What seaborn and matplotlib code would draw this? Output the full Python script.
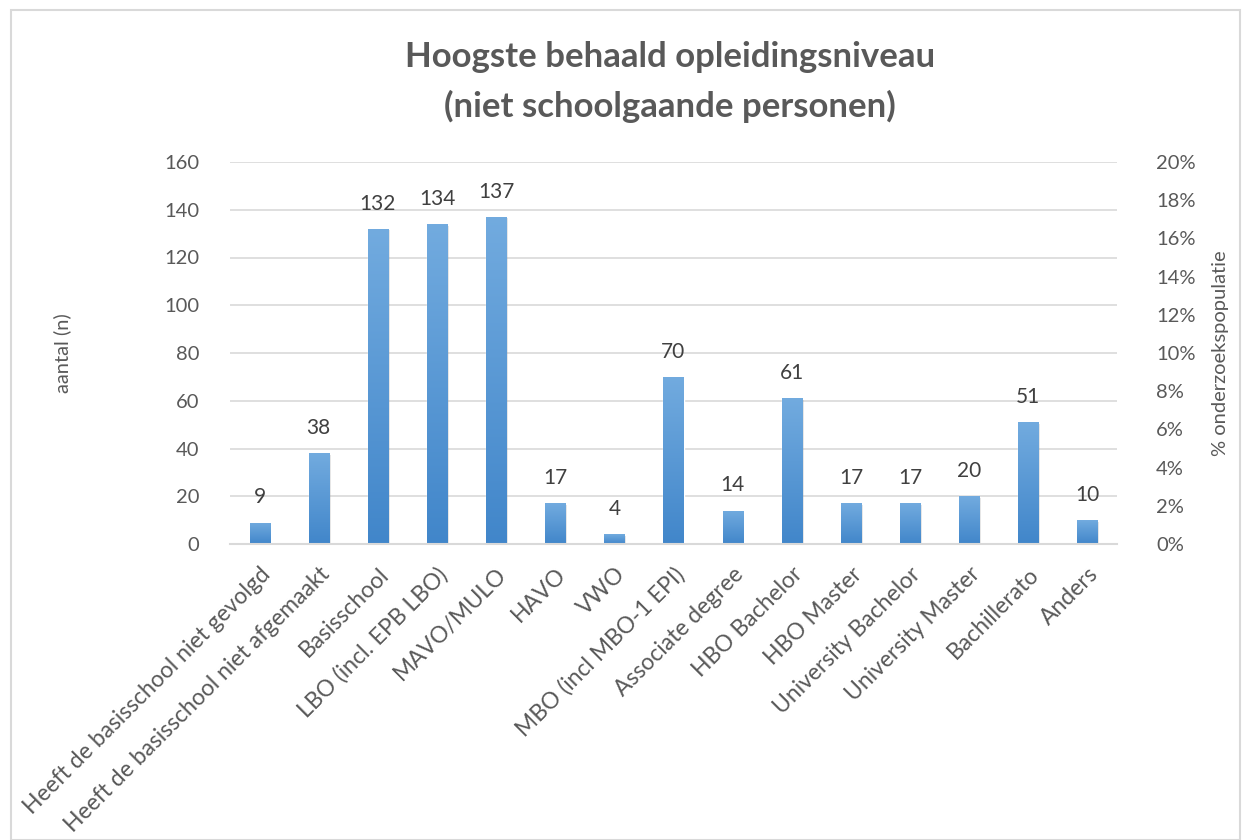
import numpy as np
import pandas as pd
import matplotlib
matplotlib.use("Agg")
import matplotlib.pyplot as plt
import seaborn as sns
from matplotlib.patches import Rectangle
from matplotlib.ticker import FuncFormatter
from matplotlib.colors import LinearSegmentedColormap

categories = ["Heeft de basisschool niet gevolgd", "Heeft de basisschool niet afgemaakt",
              "Basisschool", "LBO (incl. EPB LBO)", "MAVO/MULO", "HAVO", "VWO",
              "MBO (incl MBO-1 EPI)", "Associate degree", "HBO Bachelor", "HBO Master",
              "University Bachelor", "University Master", "Bachillerato", "Anders"]
counts = [9, 38, 132, 134, 137, 17, 4, 70, 14, 61, 17, 17, 20, 51, 10]
left_ticks = [0, 20, 40, 60, 80, 100, 120, 140, 160]
right_ticks = [0, 0.02, 0.04, 0.06, 0.08, 0.10, 0.12, 0.14, 0.16, 0.18, 0.20]

sns.set_theme(style="white")
plt.rcParams['font.family'] = ['Lato', 'DejaVu Sans']
txt = "#595959"

fig = plt.figure(figsize=(12.48, 8.4), dpi=100)
ax = fig.add_axes([230/1248, 1-544/840, (1117-230)/1248, (544-162)/840])

df = pd.DataFrame({"cat": categories, "n": counts})
sns.barplot(data=df, x="cat", y="n", ax=ax, color="#5b9bd5", width=0.34, saturation=1)

grad = np.linspace(0, 1, 256).reshape(-1, 1)
cmap = LinearSegmentedColormap.from_list("g", ["#4186ca", "#72abdf"])
for p in list(ax.patches):
    x0, y0 = p.get_x(), p.get_y()
    w, h = p.get_width(), p.get_height()
    sh = Rectangle((x0 + 0.03, y0), w, h - 0.6, facecolor="#000000", alpha=0.12,
                   edgecolor="none", zorder=1.5)
    ax.add_patch(sh)
    p.set_zorder(2)
    im = ax.imshow(grad, extent=[x0, x0 + w, y0, y0 + h], origin="lower",
                   aspect="auto", cmap=cmap, zorder=2.1)
    im.set_clip_path(p)
    ax.annotate(f"{int(h)}", (x0 + w / 2, h), xytext=(0, 11), textcoords="offset points",
                ha="center", va="bottom", fontsize=15, color="#404040")

ax.set_xlim(-0.5, len(categories) - 0.5)
ax.set_ylim(0, 160)
ax.set_yticks(left_ticks)
ax.yaxis.grid(True, color="#d9d9d9", linewidth=1.2)
ax.set_axisbelow(True)
for s in ["top", "right", "left"]:
    ax.spines[s].set_visible(False)
ax.spines["bottom"].set_color("#d9d9d9")
ax.spines["bottom"].set_linewidth(1.5)
ax.tick_params(axis="y", length=0, labelsize=14.5, labelcolor=txt, pad=22)
ax.tick_params(axis="x", length=0, labelsize=16.5, labelcolor=txt, pad=14)
ax.set_xticks(range(len(categories)))
ax.set_xticklabels(categories, rotation=45, ha="right", rotation_mode="anchor")
ax.set_xlabel("")
ax.set_ylabel("aantal (n)", fontsize=14.5, color=txt, labelpad=67)

ax2 = ax.twinx()
ax2.set_ylim(0, 0.20)
ax2.set_yticks(right_ticks)
ax2.yaxis.set_major_formatter(FuncFormatter(lambda v, _: f"{v*100:.0f}%"))
for s in ["top", "right", "left", "bottom"]:
    ax2.spines[s].set_visible(False)
ax2.tick_params(axis="y", length=0, labelsize=14.5, labelcolor=txt, pad=28)
ax2.set_ylabel("% onderzoekspopulatie", fontsize=14.5, color=txt, labelpad=12)
ax2.grid(False)

fig.text(670/1248, 1-57/840, "Hoogste behaald opleidingsniveau", ha="center", va="center",
         fontsize=25, fontweight="bold", color=txt)
fig.text(670/1248, 1-106/840, "(niet schoolgaande personen)", ha="center", va="center",
         fontsize=25, fontweight="bold", color=txt)

border = Rectangle((11/1248, 0), (1240-11)/1248, 1-10/840, transform=fig.transFigure,
                   fill=False, edgecolor="#d9d9d9", linewidth=1.5)
fig.add_artist(border)

fig.savefig("out.png", dpi=100, facecolor="white")
